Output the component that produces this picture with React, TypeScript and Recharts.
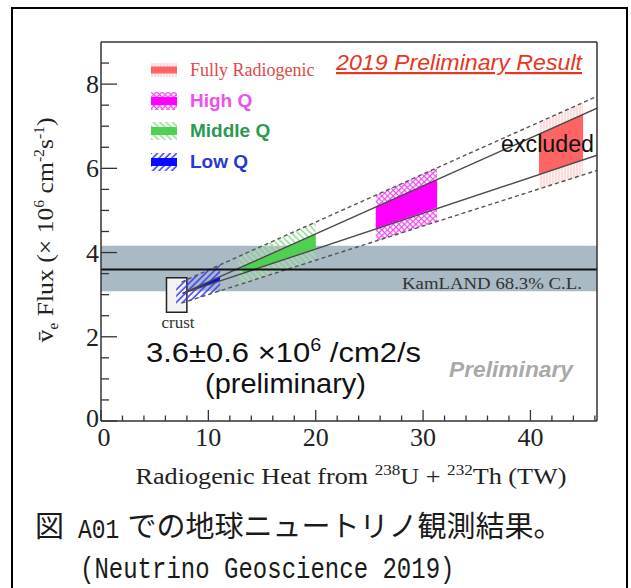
import React from 'react';
import {
  ComposedChart,
  Area,
  Line,
  XAxis,
  YAxis,
  ReferenceArea,
  ReferenceLine,
  Legend,
} from 'recharts';

// ---------- axes ----------
const xTicks = [0, 2, 4, 6, 8, 10, 12, 14, 16, 18, 20, 22, 24, 26, 28, 30, 32, 34, 36, 38, 40, 42, 44, 46];
const xMajorTicks = [0, 10, 20, 30, 40];
const yTicks = [0, 0.5, 1, 1.5, 2, 2.5, 3, 3.5, 4, 4.5, 5, 5.5, 6, 6.5, 7, 7.5, 8, 8.5];
const yMajorTicks = [0, 2, 4, 6, 8];
const xDomain = [0, 46.2];
const yDomain = [0, 9];

// ---------- KamLAND measurement ----------
const kamlandBand = [3.08, 4.16];
const kamlandCentral = 3.6;

// ---------- crust box ----------
const crustBoxX = [6.1, 8.0];
const crustBoxY = [2.58, 3.4];

// ---------- model lines ----------
const upperSolid = [
  { x: 7.6, y: 3.03 },
  { x: 46.2, y: 7.43 },
];
const lowerSolid = [
  { x: 7.6, y: 3.03 },
  { x: 46.2, y: 6.31 },
];
const upperDashed = [
  { x: 7.5, y: 3.3 },
  { x: 46.2, y: 7.71 },
];
const lowerDashed = [
  { x: 7.5, y: 2.8 },
  { x: 46.2, y: 5.95 },
];

// ---------- model regions (range: [low, high]) ----------
const lowQHatch = [
  { x: 7.0, r: [2.76, 3.24] },
  { x: 11.1, r: [3.09, 3.71] },
];
const lowQFill = [
  { x: 7.6, r: [3.03, 3.03] },
  { x: 11.07, r: [3.33, 3.43] },
];
const midQHatch = [
  { x: 12.8, r: [3.23, 3.9] },
  { x: 20.0, r: [3.82, 4.72] },
];
const midQFill = [
  { x: 13.2, r: [3.51, 3.67] },
  { x: 20.0, r: [4.1, 4.44] },
];
const highQHatch = [
  { x: 25.6, r: [4.27, 5.36] },
  { x: 31.3, r: [4.74, 6.02] },
];
const highQFill = [
  { x: 25.6, r: [4.57, 5.08] },
  { x: 31.3, r: [5.07, 5.73] },
];
const fullHatch = [
  { x: 40.8, r: [5.51, 7.09] },
  { x: 44.9, r: [5.84, 7.56] },
];
const fullFill = [
  { x: 40.8, r: [5.86, 6.81] },
  { x: 44.9, r: [6.2, 7.28] },
];

// ---------- legend ----------
const legendNames = ['Fully Radiogenic', 'High Q', 'Middle Q', 'Low Q'];
const legendTextColors = ['#e04848', '#ee50ee', '#2a9a52', '#2838d8'];
const legendFills = ['#ff6464', '#ff00ff', '#50d050', '#0a0aff'];
const legendHatches = ['hatchFull', 'hatchHigh', 'hatchMid', 'hatchLow'];

// ---------- texts ----------
const resultTitle = '2019 Preliminary Result';
const excludedText = 'excluded';
const kamlandText = 'KamLAND 68.3% C.L.';
const crustText = 'crust';
const fluxValueText = '3.6±0.6 ×10';
const fluxSup = '6';
const fluxUnitText = ' /cm2/s';
const prelimParen = '(preliminary)';
const prelimWatermark = 'Preliminary';
const captionFig = '図';
const captionId = 'A01';
const captionLine1 = 'での地球ニュートリノ観測結果。';
const captionLine2 = '(Neutrino Geoscience 2019)';

const SERIF = '"Liberation Serif", "Times New Roman", serif';
const SANS = '"Liberation Sans", Arial, sans-serif';

const XTick = (props: any) => {
  const { x, y, payload } = props;
  const v = payload.value;
  const major = xMajorTicks.includes(v);
  return (
    <g>
      <line x1={x} y1={y} x2={x} y2={y - (major ? 11 : 5.5)} stroke="#333" strokeWidth={1.3} />
      {major && (
        <text x={x + (v === 0 ? 3 : 0)} y={y + 25} textAnchor="middle" fontFamily={SERIF} fontSize={26} fill="#222">
          {v}
        </text>
      )}
    </g>
  );
};

const YTick = (props: any) => {
  const { x, y, payload } = props;
  const v = payload.value;
  const major = yMajorTicks.includes(v);
  return (
    <g>
      <line x1={x} y1={y} x2={x + (major ? 16 : 8)} y2={y} stroke="#333" strokeWidth={1.3} />
      {major && (
        <text x={x - 2} y={y + (v === 0 ? 6 : 9)} textAnchor="end" fontFamily={SERIF} fontSize={26} fill="#222">
          {v}
        </text>
      )}
    </g>
  );
};

const renderLegend = () => (
  <div style={{ display: 'flex', flexDirection: 'column' }}>
    {legendNames.map((name, i) => {
      const isFull = i === 0;
      return (
        <div key={name} style={{ display: 'flex', alignItems: 'center', height: 30.5 }}>
          <svg width={26} height={20} style={{ display: 'block', marginRight: 13 }}>
            <rect x={0} y={isFull ? 3 : 1} width={26} height={isFull ? 14 : 18} fill={`url(#${legendHatches[i]})`} />
            <rect x={0} y={isFull ? 6.5 : 6} width={26} height={isFull ? 7 : 8} fill={legendFills[i]} />
          </svg>
          <span
            style={{
              fontFamily: isFull ? SERIF : SANS,
              fontWeight: isFull ? 400 : 700,
              fontSize: isFull ? 18 : 19,
              color: legendTextColors[i],
              whiteSpace: 'nowrap',
              lineHeight: '20px',
            }}
          >
            {name}
          </span>
        </div>
      );
    })}
  </div>
);

export default function App() {
  return (
    <div
      style={{
        position: 'fixed',
        left: 0,
        top: 0,
        width: 631,
        height: 588,
        overflow: 'hidden',
        background: '#fff',
      }}
    >
      <div
        style={{
          position: 'absolute',
          left: 11,
          top: 7,
          width: 617,
          height: 620,
          border: '2px solid #000',
          boxSizing: 'border-box',
        }}
      />
      <div style={{ position: 'absolute', left: 0, top: 0 }}>
        <ComposedChart width={631} height={588} margin={{ top: 42, right: 34, bottom: 166, left: 100 }}>
          <defs>
            <pattern id="hatchLow" width="4.5" height="4.5" patternUnits="userSpaceOnUse" patternTransform="rotate(45)">
              <line x1="1" y1="0" x2="1" y2="4.5" stroke="#3a3aff" strokeWidth="1.5" />
            </pattern>
            <pattern id="hatchMid" width="4.5" height="4.5" patternUnits="userSpaceOnUse" patternTransform="rotate(-45)">
              <line x1="1" y1="0" x2="1" y2="4.5" stroke="#a2e0a2" strokeWidth="1.8" />
            </pattern>
            <pattern id="hatchHigh" width="4" height="4" patternUnits="userSpaceOnUse" patternTransform="rotate(45)">
              <rect width="4" height="4" fill="#ffffff" />
              <line x1="0.5" y1="0" x2="0.5" y2="4" stroke="#f048f0" strokeWidth="1.4" />
              <line x1="0" y1="0.5" x2="4" y2="0.5" stroke="#f048f0" strokeWidth="1.4" />
            </pattern>
            <pattern id="hatchFull" width="3" height="3" patternUnits="userSpaceOnUse">
              <rect width="3" height="3" fill="#fdf1f1" />
              <line x1="1" y1="0" x2="1" y2="3" stroke="#f8cccc" strokeWidth="1" />
            </pattern>
          </defs>

          <ReferenceArea
            x1={xDomain[0]}
            x2={xDomain[1]}
            y1={kamlandBand[0]}
            y2={kamlandBand[1]}
            fill="#a9bac4"
            fillOpacity={1}
            stroke="none"
          />
          <ReferenceArea
            x1={crustBoxX[0]}
            x2={crustBoxX[1]}
            y1={crustBoxY[0]}
            y2={crustBoxY[1]}
            fill="#f4f4f4"
            fillOpacity={1}
            stroke="#222"
            strokeWidth={1.5}
          />

          <Area data={fullHatch} dataKey="r" type="linear" stroke="none" fill="url(#hatchFull)" fillOpacity={1} isAnimationActive={false} dot={false} activeDot={false} legendType="none" />
          <Area data={highQHatch} dataKey="r" type="linear" stroke="none" fill="url(#hatchHigh)" fillOpacity={1} isAnimationActive={false} dot={false} activeDot={false} legendType="none" />
          <Area data={midQHatch} dataKey="r" type="linear" stroke="none" fill="url(#hatchMid)" fillOpacity={1} isAnimationActive={false} dot={false} activeDot={false} legendType="none" />
          <Area data={lowQHatch} dataKey="r" type="linear" stroke="none" fill="url(#hatchLow)" fillOpacity={1} isAnimationActive={false} dot={false} activeDot={false} legendType="none" />

          <Area data={fullFill} dataKey="r" type="linear" stroke="none" fill={legendFills[0]} fillOpacity={1} isAnimationActive={false} dot={false} activeDot={false} legendType="none" />
          <Area data={highQFill} dataKey="r" type="linear" stroke="none" fill={legendFills[1]} fillOpacity={1} isAnimationActive={false} dot={false} activeDot={false} legendType="none" />
          <Area data={midQFill} dataKey="r" type="linear" stroke="none" fill={legendFills[2]} fillOpacity={1} isAnimationActive={false} dot={false} activeDot={false} legendType="none" />
          <Area data={lowQFill} dataKey="r" type="linear" stroke="none" fill={legendFills[3]} fillOpacity={1} isAnimationActive={false} dot={false} activeDot={false} legendType="none" />

          <Line data={upperSolid} dataKey="y" type="linear" stroke="#4a4a4a" strokeWidth={1.4} dot={false} activeDot={false} isAnimationActive={false} legendType="none" />
          <Line data={lowerSolid} dataKey="y" type="linear" stroke="#4a4a4a" strokeWidth={1.4} dot={false} activeDot={false} isAnimationActive={false} legendType="none" />
          <Line data={upperDashed} dataKey="y" type="linear" stroke="#555" strokeWidth={1.4} strokeDasharray="4 3" dot={false} activeDot={false} isAnimationActive={false} legendType="none" />
          <Line data={lowerDashed} dataKey="y" type="linear" stroke="#555" strokeWidth={1.4} strokeDasharray="4 3" dot={false} activeDot={false} isAnimationActive={false} legendType="none" />

          <ReferenceLine y={kamlandCentral} stroke="#111" strokeWidth={2} />
          <ReferenceLine y={yDomain[1]} stroke="#333" strokeWidth={1.5} />
          <ReferenceLine x={xDomain[1]} stroke="#333" strokeWidth={1.5} />

          <XAxis
            type="number"
            dataKey="x"
            domain={xDomain}
            ticks={xTicks}
            interval={0}
            allowDataOverflow
            height={1}
            tickSize={0}
            tickMargin={0}
            tickLine={false}
            axisLine={{ stroke: '#333', strokeWidth: 1.5 }}
            tick={(p: any) => <XTick {...p} />}
          />
          <YAxis
            type="number"
            domain={yDomain}
            ticks={yTicks}
            interval={0}
            allowDataOverflow
            width={1}
            tickSize={0}
            tickMargin={0}
            tickLine={false}
            axisLine={{ stroke: '#333', strokeWidth: 1.5 }}
            tick={(p: any) => <YTick {...p} />}
          />

          <Legend
            content={renderLegend}
            layout="horizontal"
            verticalAlign="middle"
            align="center"
            wrapperStyle={{ left: 151, top: 55, width: 200, height: 122 }}
          />
        </ComposedChart>
      </div>

      {/* annotations and axis titles (overlay on top of the plot) */}
      <svg
        width={631}
        height={588}
        style={{ position: 'absolute', left: 0, top: 0, pointerEvents: 'none' }}
      >
        <text x={336} y={70} fontFamily={SANS} fontStyle="italic" fontSize={22} fill="#e8361e" textDecoration="underline" textLength={246} lengthAdjust="spacingAndGlyphs">
          {resultTitle}
        </text>
        <text x={501} y={152} fontFamily={SANS} fontSize={23} fill="#111" textLength={93} lengthAdjust="spacingAndGlyphs">
          {excludedText}
        </text>
        <text x={582} y={289} textAnchor="end" fontFamily={SERIF} fontSize={17} fill="#333" textLength={180} lengthAdjust="spacingAndGlyphs">
          {kamlandText}
        </text>
        <text x={178} y={328} textAnchor="middle" fontFamily={SERIF} fontSize={17} fill="#333">
          {crustText}
        </text>
        <text x={146} y={362} fontFamily={SANS} fontSize={28} fill="#111" textLength={275} lengthAdjust="spacingAndGlyphs">
          {fluxValueText}
          <tspan fontSize={18} dy={-11}>{fluxSup}</tspan>
          <tspan dy={11}>{fluxUnitText}</tspan>
        </text>
        <text x={205} y={393} fontFamily={SANS} fontSize={28} fill="#111" textLength={161} lengthAdjust="spacingAndGlyphs">
          {prelimParen}
        </text>
        <text x={449} y={377} fontFamily={SANS} fontStyle="italic" fontWeight={700} fontSize={22} fill="#a9a9a9" textLength={124} lengthAdjust="spacingAndGlyphs">
          {prelimWatermark}
        </text>

        <text x={351} y={484} textAnchor="middle" fontFamily={SERIF} fontSize={23} fill="#222" textLength={431} lengthAdjust="spacingAndGlyphs">
          Radiogenic Heat from <tspan fontSize={15} dy={-9}>238</tspan>
          <tspan dy={9}>U + </tspan>
          <tspan fontSize={15} dy={-9}>232</tspan>
          <tspan dy={9}>Th (TW)</tspan>
        </text>
        <text
          x={53}
          y={230}
          transform="rotate(-90 53 230)"
          textAnchor="middle"
          fontFamily={SERIF}
          fontSize={23}
          fill="#222"
          textLength={225}
          lengthAdjust="spacingAndGlyphs"
        >
          {'v\u0304'}
          <tspan fontSize={14} dy={5}>e</tspan>
          <tspan dy={-5}> Flux (× 10</tspan>
          <tspan fontSize={14} dy={-9}>6</tspan>
          <tspan dy={9}> cm</tspan>
          <tspan fontSize={14} dy={-9}>-2</tspan>
          <tspan dy={9}>s</tspan>
          <tspan fontSize={14} dy={-9}>-1</tspan>
          <tspan dy={9}>)</tspan>
        </text>
      </svg>

      {/* caption */}
      <div
        style={{
          position: 'absolute',
          left: 35,
          top: 505,
          fontSize: 29,
          lineHeight: '38px',
          whiteSpace: 'nowrap',
          color: '#1a1a1a',
          fontFamily: '"Noto Sans CJK JP", sans-serif',
        }}
      >
        <span>{captionFig}</span>
        <span style={{ fontFamily: '"Liberation Mono", monospace', fontSize: 23, marginLeft: 14, marginRight: 8, display: 'inline-block', transform: 'scaleY(1.2)' }}>
          {captionId}
        </span>
        <span>{captionLine1}</span>
      </div>
      <div
        style={{
          position: 'absolute',
          left: 80,
          top: 556,
          fontSize: 24,
          lineHeight: '30px',
          whiteSpace: 'nowrap',
          color: '#1a1a1a',
          fontFamily: '"Liberation Mono", monospace',
          transform: 'scaleY(1.2)',
          transformOrigin: 'left center',
        }}
      >
        {captionLine2}
      </div>
    </div>
  );
}
